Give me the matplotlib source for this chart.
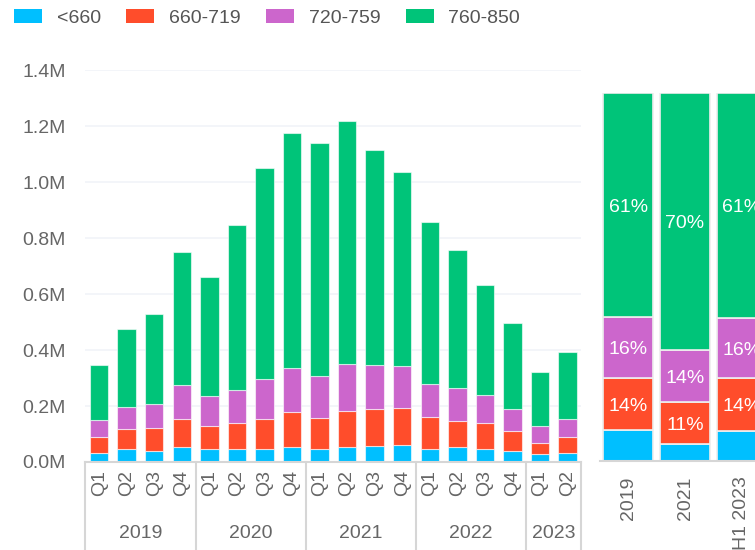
import numpy as np
import matplotlib
matplotlib.use('Agg')
from matplotlib import pyplot as plt
from matplotlib.patches import Patch
from matplotlib.ticker import FuncFormatter

plt.rcParams['font.family'] = ['Liberation Sans', 'DejaVu Sans']

# данные
bands = ['<660', '660-719', '720-759', '760-850']
colors = ['#00bfff', '#ff4d2b', '#cc66cc', '#00c479']

quarters = ['Q1', 'Q2', 'Q3', 'Q4'] * 4 + ['Q1', 'Q2']
years = ['2019', '2020', '2021', '2022', '2023']
year_sizes = [4, 4, 4, 4, 2]

below_660 = [33, 45, 40, 55, 45, 45, 45, 52, 45, 55, 57, 61, 48, 52, 48, 40, 27, 33]
s660_719 = [55, 72, 80, 97, 82, 93, 107, 125, 111, 127, 131, 131, 112, 94, 90, 71, 42, 57]
s720_759 = [62, 78, 86, 122, 109, 119, 143, 160, 151, 168, 158, 151, 119, 117, 101, 78, 60, 62]
s760_850 = [195, 279, 323, 477, 425, 589, 754, 837, 831, 868, 768, 692, 579, 494, 393, 309, 194, 241]

share_labels = ['2019', '2021', 'H1 2023']
share_below_660 = [8.3, 4.6, 8.2]
share_660_719 = [14.2, 11.4, 14.3]
share_720_759 = [16.5, 14.2, 16.4]
share_760_850 = [61.0, 69.8, 61.1]

series = [np.array(s) * 1000 for s in (below_660, s660_719, s720_759, s760_850)]
shares = [np.array(s) for s in (share_below_660, share_660_719, share_720_759, share_760_850)]

text_color = '#666666'
line_color = '#d6d6d6'

fig = plt.figure(figsize=(7.55, 5.5), dpi=100)

# левая панель: квартальные объёмы
ax = fig.add_axes([0.1131, 0.16, 0.6568, 0.7127])
x = np.arange(len(quarters))
bottom = np.zeros(len(quarters))
for vals, c in zip(series, colors):
    ax.bar(x, vals, 0.67, bottom=bottom, color=c, edgecolor=(1, 1, 1, 0.6), linewidth=0.8, zorder=2)
    bottom += vals

ax.set_xlim(-0.5, len(quarters) - 0.5)
ax.set_ylim(0, 1.4e6)
ax.set_yticks(np.arange(0, 1.41e6, 0.2e6))
ax.yaxis.set_major_formatter(FuncFormatter(lambda v, p: '{:.1f}M'.format(v / 1e6)))
ax.grid(axis='y', color='#f1f3f8', linewidth=1.2, zorder=0)
ax.set_xticks(x)
ax.set_xticklabels(quarters, rotation=90)
ax.tick_params(axis='x', length=0, pad=6, labelsize=14, labelcolor=text_color)
ax.tick_params(axis='y', length=0, pad=14, labelsize=14, labelcolor=text_color)
for s in ['top', 'right', 'left']:
    ax.spines[s].set_visible(False)
ax.spines['bottom'].set_color(line_color)
ax.spines['bottom'].set_linewidth(1.5)

# годовые группы под кварталами
tr = ax.get_xaxis_transform()
edges = np.concatenate([[0], np.cumsum(year_sizes)]) - 0.5
for e in edges:
    ax.plot([e, e], [0, -0.23], color=line_color, linewidth=1.5, transform=tr, clip_on=False)
for i, y in enumerate(years):
    ax.text((edges[i] + edges[i + 1]) / 2, -0.182, y, transform=tr, ha='center', va='center',
            fontsize=14, color=text_color)

# правая панель: доли по годам
ax2 = fig.add_axes([0.7947, 0.1618, 0.2252, 0.6697])
x2 = np.arange(len(share_labels))
bottom = np.zeros(len(share_labels))
for vals, c in zip(shares, colors):
    ax2.bar(x2, vals, 0.88, bottom=bottom, color=c, edgecolor='#eeeeee', linewidth=1.2, zorder=2)
    for xi, v, b in zip(x2, vals, bottom):
        if v >= 10:
            ax2.text(xi, b + v / 2 - 0.6, '{:.0f}%'.format(v), ha='center', va='center',
                     color='white', fontsize=14, zorder=3)
    bottom += vals
ax2.set_xlim(-0.5, len(share_labels) - 0.5)
ax2.set_ylim(0, 100)
ax2.set_yticks([])
ax2.set_xticks(x2)
ax2.set_xticklabels(share_labels, rotation=90)
ax2.tick_params(axis='x', length=0, pad=11, labelsize=14, labelcolor=text_color)
for s in ['top', 'right', 'left']:
    ax2.spines[s].set_visible(False)
ax2.spines['bottom'].set_color(line_color)
ax2.spines['bottom'].set_linewidth(1.5)

# легенда
handles = [Patch(facecolor=c, label=b) for b, c in zip(bands, colors)]
fig.legend(handles=handles, loc='center left', bbox_to_anchor=(0.0185, 0.968), ncol=4,
           frameon=False, fontsize=14, labelcolor='#555555', handlelength=1.45,
           handleheight=0.8, handletextpad=0.75, columnspacing=1.3,
           borderpad=0, borderaxespad=0)

fig.savefig('out.png', dpi=100)
